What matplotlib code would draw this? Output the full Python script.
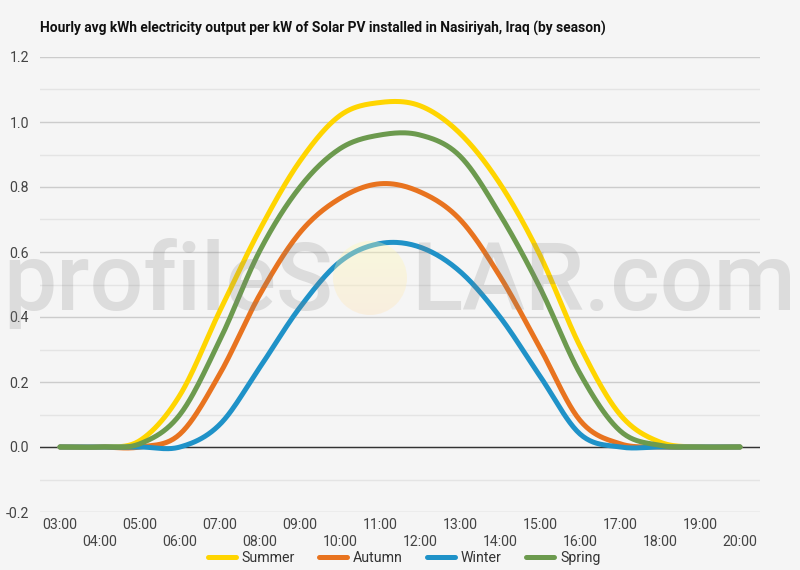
"""Hourly solar PV output per kW by season - Nasiriyah, Iraq."""

import numpy as np
import matplotlib
matplotlib.use('Agg')
import matplotlib.pyplot as plt
from matplotlib.patches import Circle

plt.rcParams['font.family'] = ['Roboto', 'DejaVu Sans']

# Data
hours = ['03:00', '04:00', '05:00', '06:00', '07:00', '08:00', '09:00', '10:00', '11:00',
         '12:00', '13:00', '14:00', '15:00', '16:00', '17:00', '18:00', '19:00', '20:00']
summer = [0, 0, 0.02, 0.16, 0.42, 0.67, 0.88, 1.02, 1.06, 1.05, 0.965, 0.81, 0.59, 0.31, 0.10, 0.015, 0, 0]
autumn = [0, 0, 0, 0.04, 0.226, 0.47, 0.66, 0.765, 0.81, 0.785, 0.70, 0.525, 0.305, 0.082, 0.01, 0, 0, 0]
winter = [0, 0, 0, 0, 0.07, 0.246, 0.43, 0.57, 0.626, 0.615, 0.54, 0.40, 0.218, 0.04, 0, 0, 0, 0]
spring = [0, 0, 0.01, 0.10, 0.33, 0.605, 0.80, 0.918, 0.96, 0.96, 0.895, 0.715, 0.49, 0.226, 0.05, 0.005, 0, 0]
y_ticks = [-0.2, 0.0, 0.2, 0.4, 0.6, 0.8, 1.0, 1.2]

series = [
    ('Summer', summer, '#FFD500'),
    ('Autumn', autumn, '#E8731F'),
    ('Winter', winter, '#1F92C8'),
    ('Spring', spring, '#6C9A4E'),
]

BG = '#f5f5f5'
W, H = 800, 570


def catmull_rom(values, steps=24):
    """Smooth curve through the points (like curveType 'function')."""
    v = np.asarray(values, dtype=float)
    p = np.concatenate([[v[0]], v, [v[-1]]])
    xs, ys = [], []
    t = np.linspace(0, 1, steps, endpoint=False)
    for i in range(len(v) - 1):
        p0, p1, p2, p3 = p[i], p[i + 1], p[i + 2], p[i + 3]
        y = 0.5 * (2 * p1 + (-p0 + p2) * t + (2 * p0 - 5 * p1 + 4 * p2 - p3) * t ** 2
                   + (-p0 + 3 * p1 - 3 * p2 + p3) * t ** 3)
        xs.append(i + t)
        ys.append(y)
    xs.append([len(v) - 1])
    ys.append([v[-1]])
    return np.concatenate(xs), np.concatenate(ys)


fig = plt.figure(figsize=(W / 100, H / 100), dpi=100)
fig.patch.set_facecolor(BG)
ax = fig.add_axes([40 / W, 1 - 512 / H, 720 / W, 455 / H])
ax.set_facecolor(BG)

x = np.arange(len(hours))
handles = []
for name, vals, color in series:
    sx, sy = catmull_rom(vals)
    line, = ax.plot(sx, sy, color=color, linewidth=3.6, solid_capstyle='round',
                    label=name, zorder=3)
    handles.append(line)

ax.set_xlim(-0.5, len(hours) - 0.5)
ax.set_ylim(-0.2, 1.2)

# Grid
ax.set_yticks(y_ticks)
ax.set_yticks(np.arange(-0.1, 1.2, 0.2), minor=True)
ax.grid(True, axis='y', which='major', color='#cccccc', linewidth=1, zorder=0)
ax.grid(True, axis='y', which='minor', color='#e4e4e4', linewidth=1, zorder=0)
ax.axhline(0, color='#333333', linewidth=1, zorder=2)
ax.set_yticklabels([f'{v:.1f}' for v in y_ticks])
ax.tick_params(axis='y', which='both', length=0, pad=8, labelsize=10.2, labelcolor='#444444')

# Alternating two-row x labels
ax.set_xticks(x)
ax.set_xticklabels([h if i % 2 == 0 else '\n' + h for i, h in enumerate(hours)],
                   linespacing=1.3)
ax.tick_params(axis='x', length=0, pad=4, labelsize=10.2, labelcolor='#444444')
for s in ax.spines.values():
    s.set_visible(False)

# Title
fig.text(40 / W, 1 - 28 / H,
         'Hourly avg kWh electricity output per kW of Solar PV installed in Nasiriyah, Iraq (by season)',
         ha='left', va='center', fontsize=9.9, fontweight='bold', color='#111111')

# Legend
fig.legend(handles=handles, loc='center', bbox_to_anchor=(0.505, 1 - 558 / H), ncol=4,
           frameon=False, fontsize=10.2, handlelength=2.0, handletextpad=0.4,
           columnspacing=1.7, labelcolor='#333333')

# Watermark overlay
wm = dict(fontsize=68, fontweight='medium', color='#808080', alpha=0.21, va='baseline', zorder=10)
fig.text(333 / W, 1 - 310 / H, 'profileS', ha='right', **wm)
fig.text(411 / W, 1 - 310 / H, 'LAR.com', ha='left', **wm)

sun_ax = fig.add_axes([0, 0, 1, 1], zorder=5)
sun_ax.set_xlim(0, W)
sun_ax.set_ylim(H, 0)
sun_ax.axis('off')
grad = np.linspace(0, 1, 64)[:, None]
img = np.zeros((64, 1, 4))
img[..., 0] = 1.0
img[..., 1] = 0.99 - 0.10 * grad
img[..., 2] = 0.70 + 0.02 * grad
img[..., 3] = 0.36
im = sun_ax.imshow(img, extent=(333, 407, 315, 241), aspect='auto', interpolation='bilinear')
circ = Circle((370, 278), 37, transform=sun_ax.transData, facecolor='none', edgecolor='none')
sun_ax.add_patch(circ)
im.set_clip_path(circ)

fig.savefig('out.png', dpi=100, facecolor=BG)
